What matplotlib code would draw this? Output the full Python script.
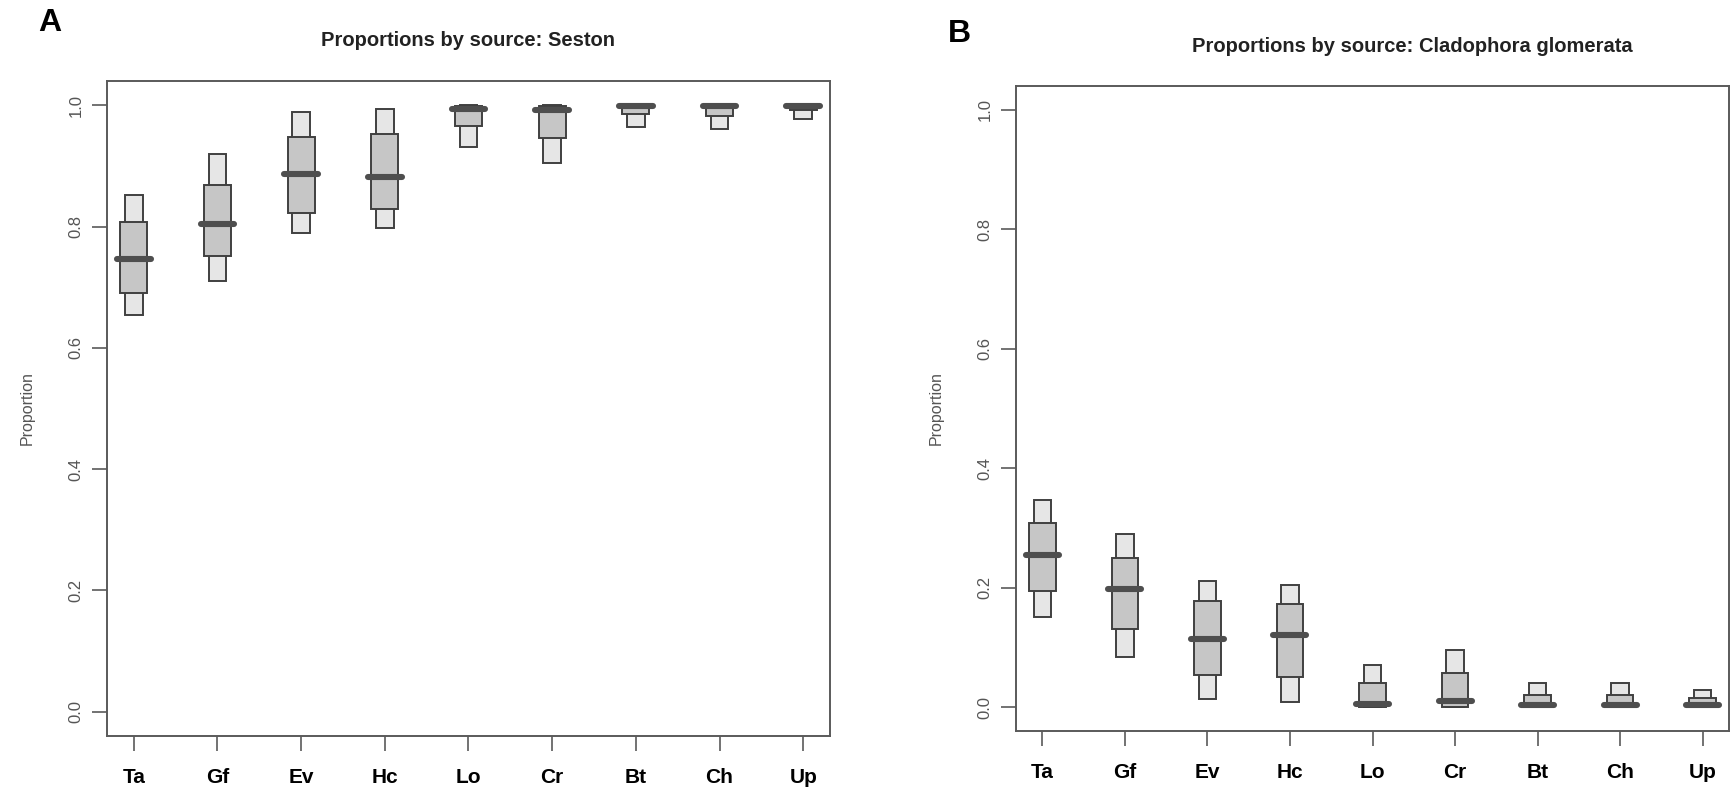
import matplotlib
matplotlib.use("Agg")
import matplotlib.pyplot as plt
import numpy as np

plt.rcParams['font.family'] = ['Liberation Sans', 'DejaVu Sans']

sources = ["Ta", "Gf", "Ev", "Hc", "Lo", "Cr", "Bt", "Ch", "Up"]

# Panel A: Seston
a_lo95 = [0.654, 0.711, 0.790, 0.797, 0.931, 0.905, 0.964, 0.961, 0.977]
a_lo75 = [0.691, 0.751, 0.822, 0.829, 0.966, 0.946, 0.985, 0.983, 0.992]
a_med = [0.747, 0.804, 0.887, 0.881, 0.994, 0.992, 0.999, 0.999, 0.999]
a_hi75 = [0.807, 0.869, 0.948, 0.952, 0.999, 0.999, 1.000, 1.000, 1.000]
a_hi95 = [0.852, 0.919, 0.989, 0.994, 1.000, 1.000, 1.000, 1.000, 1.000]

# Panel B: Cladophora glomerata
b_lo95 = [0.151, 0.084, 0.013, 0.009, 0.000, 0.000, 0.000, 0.000, 0.000]
b_lo75 = [0.195, 0.131, 0.054, 0.050, 0.000, 0.000, 0.000, 0.000, 0.000]
b_med = [0.254, 0.197, 0.114, 0.121, 0.006, 0.010, 0.004, 0.004, 0.003]
b_hi75 = [0.309, 0.250, 0.178, 0.172, 0.040, 0.057, 0.021, 0.021, 0.015]
b_hi95 = [0.346, 0.290, 0.211, 0.204, 0.071, 0.096, 0.041, 0.041, 0.029]

yticks = [0.0, 0.2, 0.4, 0.6, 0.8, 1.0]
ytick_labels = ["0.0", "0.2", "0.4", "0.6", "0.8", "1.0"]

fig = plt.figure(figsize=(17.36, 7.89), dpi=100)
axA = fig.add_axes([107/1736, 1-736/789, 723/1736, 655/789])
axB = fig.add_axes([1016/1736, 1-731/789, 713/1736, 645/789])

EDGE = "#404040"
LIGHT = "#e6e6e6"
DARK = "#c6c6c6"
AXC = "#5a5a5a"


def draw(ax, lo95, lo75, med, hi75, hi95):
    x = np.arange(1, len(sources) + 1)
    lo95 = np.array(lo95); hi95 = np.array(hi95)
    lo75 = np.array(lo75); hi75 = np.array(hi75)
    ax.bar(x, hi95 - lo95, bottom=lo95, width=0.21, color=LIGHT,
           edgecolor=EDGE, linewidth=1.4, zorder=2)
    ax.bar(x, hi75 - lo75, bottom=lo75, width=0.32, color=DARK,
           edgecolor=EDGE, linewidth=1.4, zorder=3)
    ax.hlines(med, x - 0.20, x + 0.20, colors="#4e4e4e", linewidth=4.4,
              zorder=4, capstyle="round")
    ax.set_xlim(0.68, 9.32)
    ax.set_ylim(-0.04, 1.04)
    ax.set_xticks(x)
    ax.set_xticklabels(sources, fontsize=15, fontweight="bold", color="black")
    ax.set_yticks(yticks)
    ax.set_yticklabels(ytick_labels, fontsize=12, color="#555555")
    for t in ax.get_yticklabels():
        t.set_rotation(90)
        t.set_va("center")
    ax.tick_params(axis="x", length=11, width=1.2, color=AXC, pad=12)
    ax.tick_params(axis="y", length=11, width=1.2, color=AXC, pad=6)
    for s in ax.spines.values():
        s.set_color(AXC)
        s.set_linewidth(1.4)
    ax.set_ylabel("Proportion", fontsize=11.5, color="#555555", labelpad=24)


draw(axA, a_lo95, a_lo75, a_med, a_hi75, a_hi95)
draw(axB, b_lo95, b_lo75, b_med, b_hi75, b_hi95)

fig.text(468/1736, 1-41/789, "Proportions by source: Seston", ha="center",
         va="center", fontsize=14.5, fontweight="bold", color="#222222")
fig.text(1412/1736, 1-47/789, "Proportions by source: Cladophora glomerata",
         ha="center", va="center", fontsize=14.5, fontweight="bold", color="#222222")
fig.text(50/1736, 1-23/789, "A", ha="center", va="center", fontsize=23,
         fontweight="bold", color="black")
fig.text(959/1736, 1-34/789, "B", ha="center", va="center", fontsize=23,
         fontweight="bold", color="black")

fig.savefig("out.png", dpi=100)
